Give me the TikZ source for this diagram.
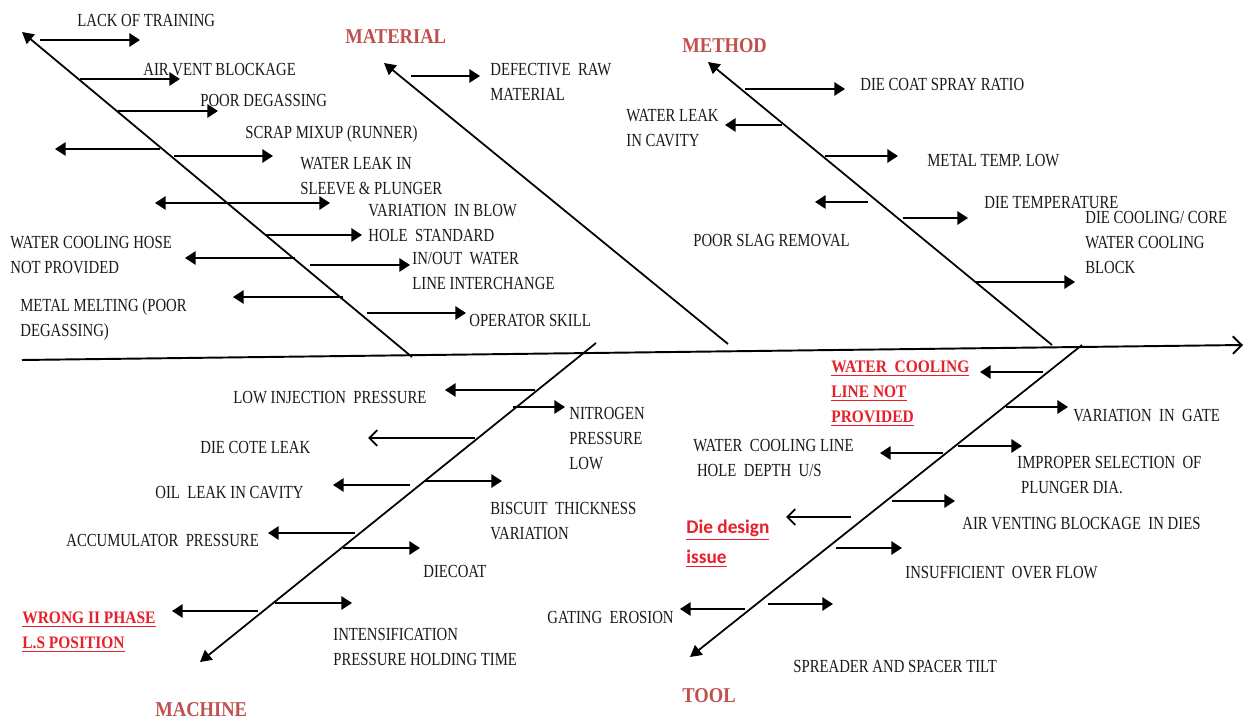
\documentclass[tikz,border=0pt]{standalone}
\usepackage{fontspec}
\setmainfont{Liberation Serif}[FakeStretch=0.8]
\newfontfamily\catfont{Liberation Serif}[FakeStretch=0.88]
\newfontfamily\redsans{Carlito}
\usetikzlibrary{arrows.meta}
\definecolor{catred}{HTML}{C0504D}
\definecolor{hotred}{HTML}{E8202A}
\tikzset{
  txt/.style={anchor=north west, inner sep=0pt, align=left, font=\fontsize{10.5}{14.2}\selectfont, text=black!90},
  cat/.style={anchor=north west, inner sep=0pt, font=\fontsize{12}{14}\catfont\bfseries, text=catred},
  redlab/.style={anchor=north west, inner sep=0pt, align=left, font=\fontsize{10}{14.2}\catfont\bfseries, text=hotred},
  redsanslab/.style={anchor=north west, inner sep=0pt, align=left, font=\fontsize{11}{17}\redsans\bfseries, text=hotred},
  bone/.style={line width=1pt, -{Triangle[length=6.5pt,width=7pt]}},
  spine/.style={line width=1.1pt, -{Straight Barb[length=5pt,width=10pt]}},
  br/.style={line width=1.1pt, -{Triangle[length=6pt,width=7.5pt]}},
  dbr/.style={line width=1.1pt, {Triangle[length=6pt,width=7.5pt]}-{Triangle[length=6pt,width=7.5pt]}},
  obr/.style={line width=1.1pt, -{Straight Barb[length=4.5pt,width=9pt]}}
}
\begin{document}
\begin{tikzpicture}[x=0.02cm,y=-0.02cm]
\useasboundingbox[fill=white] (0,0) rectangle (1257,722);
% spine and bones
\coordinate (s0) at (22,360); \coordinate (s1) at (1243,345);
\coordinate (pA) at (412,357); \coordinate (pT) at (22,32);
\coordinate (mA) at (728,344); \coordinate (mT) at (384,63);
\coordinate (meA) at (1052,345); \coordinate (meT) at (708,62);
\coordinate (maA) at (596,343); \coordinate (maT) at (200,662);
\coordinate (tA) at (1082,345); \coordinate (tT) at (690,657);
\draw[spine] (s0) -- (s1);
\draw[bone] (pA) -- (pT);
\draw[bone] (mA) -- (mT);
\draw[bone] (meA) -- (meT);
\draw[bone] (maA) -- (maT);
\draw[bone] (tA) -- (tT);

% ---- top-left bone
\draw[br] (40,40) -- (140,40);
\node[txt] (t1) at (77,14) {LACK OF TRAINING};
\draw[br] (80,79) -- (180,79);
\node[txt] (t2) at (143,63) {AIR VENT BLOCKAGE};
\draw[br] (118,111) -- (218,111);
\node[txt] (t3) at (200,94) {POOR DEGASSING};
\draw[br] (160,149) -- (55,149);
\draw[br] (174,156) -- (273,156);
\node[txt] (t4) at (245,125) {SCRAP MIXUP (RUNNER)};
\draw[dbr] (155,203) -- (330,203);
\node[txt] (t5) at (300,157) {WATER LEAK IN\\SLEEVE \& PLUNGER};
\draw[br] (265,235) -- (362,235);
\node[txt] (t6) at (368,204) {VARIATION\ \ IN BLOW\\HOLE\ \ STANDARD};
\draw[br] (295,258) -- (185,258);
\node[txt] (t7) at (10,236) {WATER COOLING HOSE\\NOT PROVIDED};
\draw[br] (310,265) -- (410,265);
\node[txt] (t8) at (412,252) {IN/OUT\ \ WATER\\LINE INTERCHANGE};
\draw[br] (343,297) -- (233,297);
\node[txt] (t9) at (20,298) {METAL\ MELTING (POOR\\DEGASSING)};
\draw[br] (367,313) -- (466,313);
\node[txt] (t10) at (469,314) {OPERATOR SKILL};

% ---- material
\node[cat] (lmat) at (345,29) {MATERIAL};
\draw[br] (411,76) -- (480,76);
\node[txt] (t11) at (490,63) {DEFECTIVE\ \ RAW\\MATERIAL};

% ---- method
\node[cat] (lmet) at (682,38) {METHOD};
\draw[br] (745,89) -- (845,89);
\node[txt] (t12) at (860,78) {DIE COAT SPRAY RATIO};
\draw[br] (782,125) -- (725,125);
\node[txt] (t13) at (626,109) {WATER LEAK\\IN CAVITY};
\draw[br] (825,156) -- (898,156);
\node[txt] (t14) at (927,154) {METAL TEMP. LOW};
\draw[br] (868,202) -- (815,202);
\node[txt] (t15) at (693,234) {POOR SLAG REMOVAL};
\draw[br] (903,218) -- (968,218);
\node[txt] (t16) at (984,196) {DIE TEMPERATURE};
\draw[br] (975,282) -- (1075,282);
\node[txt] (t17) at (1085,211) {DIE COOLING/ CORE\\WATER COOLING\\BLOCK};

% ---- machine
\draw[br] (535,390) -- (445,390);
\node[txt] (t18) at (233,391) {LOW INJECTION\ \ PRESSURE};
\draw[br] (513,407) -- (565,407);
\node[txt] (t19) at (569,407) {NITROGEN\\PRESSURE\\LOW};
\draw[obr] (475,438) -- (368,438);
\node[txt] (t20) at (200,441) {DIE COTE LEAK};
\draw[br] (425,481) -- (502,481);
\node[txt] (t21) at (490,502) {BISCUIT\ \ THICKNESS\\VARIATION};
\draw[br] (410,485) -- (333,485);
\node[txt] (t22) at (155,486) {OIL\ \ LEAK IN CAVITY};
\draw[br] (355,533) -- (268,533);
\node[txt] (t23) at (66,534) {ACCUMULATOR\ \ PRESSURE};
\draw[br] (343,548) -- (420,548);
\node[txt] (t24) at (423,565) {DIECOAT};
\draw[br] (258,611) -- (172,611);
\node[redlab] (t25) at (22,612) {\underline{WRONG II PHASE}\\\underline{L.S POSITION}};
\draw[br] (275,603) -- (352,603);
\node[txt] (t26) at (333,628) {INTENSIFICATION\\PRESSURE HOLDING TIME};
\node[cat] (lmac) at (155,702) {MACHINE};

% ---- tool
\draw[br] (1043,372) -- (980,372);
\node[redlab] (t27) at (831,361) {\underline{WATER\ \ COOLING}\\\underline{LINE NOT}\\\underline{PROVIDED}};
\draw[br] (1006,407) -- (1068,407);
\node[txt] (t28) at (1073,409) {VARIATION\ \ IN\ \ GATE};
\draw[br] (958,446) -- (1022,446);
\node[txt] (t29) at (1017,456) {IMPROPER SELECTION\ \ OF\\\ PLUNGER DIA.};
\draw[br] (943,453) -- (880,453);
\node[txt] (t30) at (693,439) {WATER\ \ COOLING LINE\\\ HOLE\ \ DEPTH\ \ U/S};
\draw[br] (892,501) -- (955,501);
\node[txt] (t31) at (962,517) {AIR VENTING BLOCKAGE\ \ IN DIES};
\draw[obr] (851,517) -- (786,517);
\node[redsanslab] (t32) at (686,520) {\underline{Die design}\\\underline{issue}};
\draw[br] (836,548) -- (902,548);
\node[txt] (t33) at (905,566) {INSUFFICIENT\ \ OVER FLOW};
\draw[br] (745,609) -- (680,609);
\node[txt] (t34) at (547,611) {GATING\ \ EROSION};
\draw[br] (768,604) -- (833,604);
\node[txt] (t35) at (793,660) {SPREADER AND SPACER TILT};
\node[cat] (ltool) at (682,688) {TOOL};
\end{tikzpicture}
\end{document}
